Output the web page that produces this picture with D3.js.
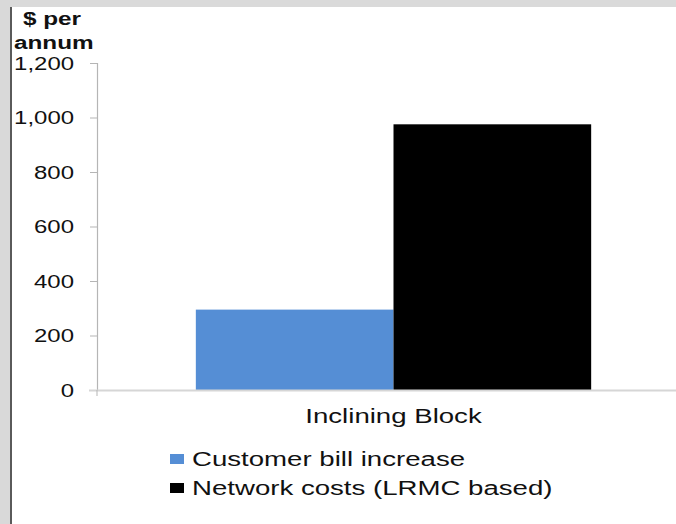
<!DOCTYPE html>
<html>
<head>
<meta charset="utf-8">
<script src="https://cdn.jsdelivr.net/npm/d3@7"></script>
<style>
  html, body { margin: 0; padding: 0; background: #fff; }
  svg { display: block; font-family: "Liberation Sans", Arial, sans-serif; }
</style>
</head>
<body>
<svg id="chart" width="676" height="524"></svg>
<script>
// Annual cost comparison under an inclining block tariff
const categories = ["Inclining Block"];
const seriesNames = ["Customer bill increase", "Network costs (LRMC based)"];
const seriesColors = ["#558ed5", "#000000"];
const seriesValues = [295, 975];
const yTicks = [0, 200, 400, 600, 800, 1000, 1200];

const svg = d3.select("#chart");
const W = 676, H = 524;

// widen glyphs horizontally by a factor, keeping the anchor in place
function stretch(sel, k) {
  sel.each(function () {
    const len = this.getComputedTextLength();
    d3.select(this).attr("textLength", len * k).attr("lengthAdjust", "spacingAndGlyphs");
  });
}

// frame
svg.append("rect").attr("x", 0).attr("y", 0).attr("width", W).attr("height", H).attr("fill", "#fff");
svg.append("rect").attr("x", 0).attr("y", 0).attr("width", W).attr("height", 7).attr("fill", "#dadada");
svg.append("rect").attr("x", 0).attr("y", 0).attr("width", 10).attr("height", H).attr("fill", "#d9d9d9");
svg.append("rect").attr("x", 10).attr("y", 7).attr("width", 2).attr("height", H - 7).attr("fill", "#5a5a5a");

// plot area runs slightly past the right edge of the frame
const plot = { left: 97, right: 690, top: 63, bottom: 390 };

const y = d3.scaleLinear().domain([0, 1200]).range([plot.bottom, plot.top]);
const x0 = d3.scaleBand().domain(categories).range([plot.left, plot.right]).paddingInner(0).paddingOuter(0.25);
const x1 = d3.scaleBand().domain(seriesNames).range([0, x0.bandwidth()]).padding(0);

// y axis
const yAxis = svg.append("g")
  .attr("transform", `translate(${plot.left},0)`)
  .call(d3.axisLeft(y).tickValues(yTicks).tickSize(7).tickPadding(16)
    .tickFormat(d3.format(",")));
yAxis.select(".domain").attr("stroke", "#b5b5b5").attr("stroke-width", 1.2);
yAxis.selectAll(".tick line").attr("stroke", "#b5b5b5");
yAxis.selectAll(".tick text")
  .attr("font-size", 18).attr("fill", "#111")
  .attr("font-family", "'Liberation Sans', Arial, sans-serif")
  .attr("dy", "0.36em")
  .call(stretch, 1.33);

// bars
const g = svg.append("g");
categories.forEach((c) => {
  seriesNames.forEach((s, i) => {
    g.append("rect")
      .attr("x", x0(c) + x1(s))
      .attr("y", y(seriesValues[i]))
      .attr("width", x1.bandwidth())
      .attr("height", y(0) - y(seriesValues[i]))
      .attr("fill", seriesColors[i]);
  });
});

// x axis
const xAxis = svg.append("g")
  .attr("transform", `translate(0,${plot.bottom})`)
  .call(d3.axisBottom(x0).tickSize(0).tickPadding(19));
xAxis.select(".domain").remove();
svg.append("line")
  .attr("x1", plot.left - 8).attr("x2", W)
  .attr("y1", plot.bottom + 0.5).attr("y2", plot.bottom + 0.5)
  .attr("stroke", "#d6d6d6").attr("stroke-width", 2);
svg.append("line")
  .attr("x1", plot.left).attr("x2", plot.left)
  .attr("y1", plot.bottom).attr("y2", plot.bottom + 6)
  .attr("stroke", "#b5b5b5");
xAxis.selectAll(".tick text")
  .attr("font-size", 20).attr("fill", "#111")
  .attr("font-family", "'Liberation Sans', Arial, sans-serif")
  .call(stretch, 1.38);

// axis title
const title = svg.append("text").attr("font-weight", "bold").attr("font-size", 18).attr("fill", "#111");
title.append("tspan").attr("x", 23).attr("y", 25).text("$ per");
title.append("tspan").attr("x", 14).attr("y", 49).text("annum");
title.selectAll("tspan").call(stretch, 1.35);

// legend
const legend = svg.append("g");
seriesNames.forEach((s, i) => {
  const base = 466 + i * 29;
  legend.append("rect").attr("x", 170).attr("y", base - 12).attr("width", 14).attr("height", 10).attr("fill", seriesColors[i]);
  legend.append("text").attr("x", 192).attr("y", base)
    .attr("font-size", 20).attr("fill", "#111").text(s)
    .call(stretch, 1.38);
});
</script>
</body>
</html>
